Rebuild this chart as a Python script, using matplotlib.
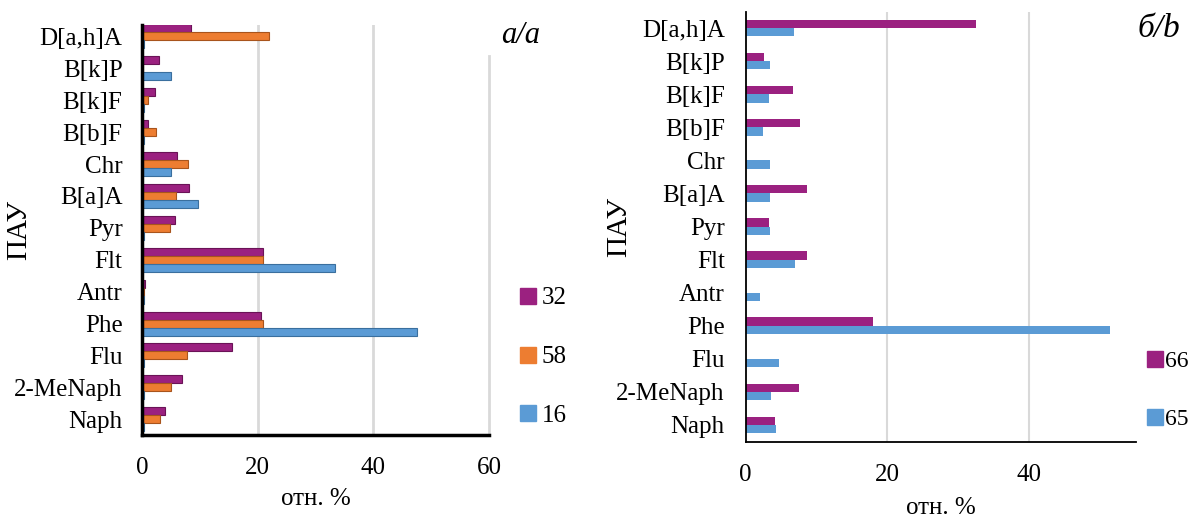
import numpy as np
import matplotlib.pyplot as plt
from matplotlib.lines import Line2D

plt.rcParams['font.family'] = ['Liberation Serif', 'DejaVu Serif']

pahs = ['Naph', '2-MeNaph', 'Flu', 'Phe', 'Antr', 'Flt', 'Pyr',
        'B[a]A', 'Chr', 'B[b]F', 'B[k]F', 'B[k]P', 'D[a,h]A']

# panel a/a  (order as in pahs, bottom to top)
a_32 = [3.9, 6.9, 15.5, 20.6, 0.6, 20.9, 5.7, 8.2, 6.1, 1.1, 2.2, 2.9, 8.5]
a_58 = [3.2, 5.0, 7.7, 20.9, 0.3, 20.9, 4.8, 5.9, 7.9, 2.5, 1.1, 0.2, 22.0]
a_16 = [0.3, 0.3, 0.3, 47.5, 0.3, 33.4, 0.3, 9.7, 5.0, 0.3, 0.3, 5.1, 0.3]

# panel б/b
b_66 = [4.2, 7.5, 0.0, 18.0, 0.0, 8.6, 3.3, 8.7, 0.0, 7.6, 6.7, 2.6, 32.5]
b_65 = [4.3, 3.6, 4.7, 51.4, 2.0, 7.0, 3.5, 3.4, 3.5, 2.5, 3.3, 3.4, 6.8]

purple = '#9B2180'
orange = '#ED7D31'
blue = '#5B9BD5'
fs = 18

fig = plt.figure(figsize=(11.93, 5.25), dpi=100)

# ---- left panel
ax1 = fig.add_axes([0.119, 0.171, 0.291, 0.781])
y = np.arange(len(pahs))
h = 0.25
ax1.barh(y + h, a_32, h, color=purple, edgecolor='#6a1357', linewidth=0.8)
ax1.barh(y, a_58, h, color=orange, edgecolor='#a8541c', linewidth=0.8)
ax1.barh(y - h, a_16, h, color=blue, edgecolor='#3a6f9e', linewidth=0.8)
ax1.set_xlim(0, 60)
ax1.set_ylim(-0.5, 12.35)
ax1.set_xticks([0, 20, 40, 60])
ax1.set_yticks(y)
ax1.set_yticklabels(pahs)
for gx in [20, 40]:
    ax1.axvline(gx, color='#d9d9d9', lw=2, zorder=0)
ax1.plot([60, 60], [-0.5, 11.4], color='#d9d9d9', lw=2, zorder=0, clip_on=False)
for s in ['top', 'right']:
    ax1.spines[s].set_visible(False)
ax1.spines['left'].set_linewidth(2.5)
ax1.spines['bottom'].set_linewidth(2.5)
ax1.tick_params(length=0, labelsize=fs)
ax1.tick_params(axis='x', pad=16)
ax1.tick_params(axis='y', pad=14)
ax1.set_xlabel('отн. %', fontsize=fs, labelpad=6)
ax1.set_ylabel('ПАУ', fontsize=21)
ax1.yaxis.set_label_coords(-0.315, 0.5)
ax1.text(1.09, 1.01, 'a/a', transform=ax1.transAxes, fontsize=22,
         style='italic', ha='center', va='top')

leg1 = [Line2D([], [], marker='s', ls='', color=c, markersize=11, label=l)
        for c, l in [(purple, '32'), (orange, '58'), (blue, '16')]]
fig.legend(handles=leg1, loc='center left', bbox_to_anchor=(0.428, 0.32),
           frameon=False, fontsize=fs, handlelength=0.6, handletextpad=0.25,
           labelspacing=1.45, borderaxespad=0)

# ---- right panel
ax2 = fig.add_axes([0.625, 0.159, 0.327, 0.819])
h2 = 0.25
ax2.barh(y + h2 / 2, b_66, h2, color=purple)
ax2.barh(y - h2 / 2, b_65, h2, color=blue)
ax2.set_xlim(0, 55)
ax2.set_ylim(-0.5, 12.5)
ax2.set_xticks([0, 20, 40])
ax2.set_yticks(y)
ax2.set_yticklabels(pahs)
for gx in [20, 40]:
    ax2.axvline(gx, color='#d9d9d9', lw=1.5, zorder=0)
for s in ['top', 'right']:
    ax2.spines[s].set_visible(False)
ax2.spines['left'].set_linewidth(1.3)
ax2.spines['bottom'].set_linewidth(1.3)
ax2.tick_params(length=0, labelsize=fs)
ax2.tick_params(axis='x', pad=16)
ax2.tick_params(axis='y', pad=15)
ax2.set_xlabel('отн. %', fontsize=fs, labelpad=8)
ax2.set_ylabel('ПАУ', fontsize=21)
ax2.yaxis.set_label_coords(-0.29, 0.5)
ax2.text(1.06, 0.995, 'б/b', transform=ax2.transAxes, fontsize=24,
         style='italic', ha='center', va='top')

leg2 = [Line2D([], [], marker='s', ls='', color=c, markersize=11, label=l)
        for c, l in [(purple, '66'), (blue, '65')]]
fig.legend(handles=leg2, loc='center left', bbox_to_anchor=(0.955, 0.257),
           frameon=False, fontsize=17, handlelength=0.5, handletextpad=0.2,
           labelspacing=1.55, borderaxespad=0)

fig.savefig('out.png', dpi=100)
